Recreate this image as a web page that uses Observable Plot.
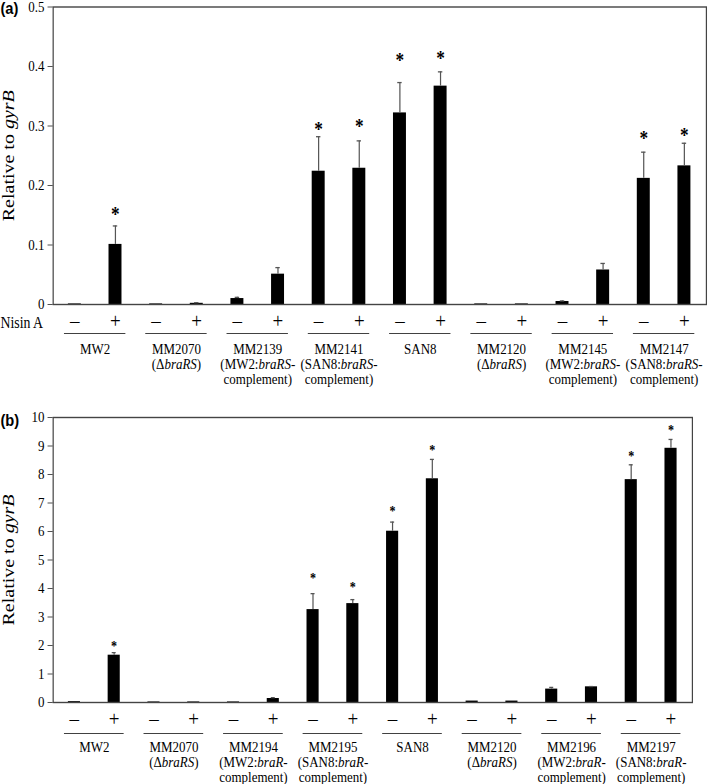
<!DOCTYPE html>
<html><head><meta charset="utf-8">
<script src="https://cdn.jsdelivr.net/npm/d3@7"></script>
<script src="https://cdn.jsdelivr.net/npm/@observablehq/plot@0.6"></script>
<style>
body{margin:0;background:#fff;overflow:hidden;}
#chart{width:709px;}
#chart svg{display:block;}
#chart svg text{font-family:"Liberation Serif","Times New Roman",serif;}
</style></head><body><div id="chart"></div>
<script>
// ---- Panel (a) data ----
const groupsA = ["MW2", "MM2070\n(ΔbraRS)", "MM2139\n(MW2:braRS-\ncomplement)", "MM2141\n(SAN8:braRS-\ncomplement)", "SAN8", "MM2120\n(ΔbraRS)", "MM2145\n(MW2:braRS-\ncomplement)", "MM2147\n(SAN8:braRS-\ncomplement)"];
const minusA = [0.001, 0.001, 0.010, 0.224, 0.322, 0.001, 0.005, 0.212];
const plusA = [0.101, 0.002, 0.051, 0.229, 0.367, 0.001, 0.058, 0.233];
const errMinusA = [0, 0, 0.002, 0.058, 0.051, 0, 0.001, 0.044];
const errPlusA = [0.031, 0.001, 0.011, 0.046, 0.024, 0, 0.011, 0.038];
const starMinusA = [null, null, null, 0.302, 0.417, null, null, 0.287];
const starPlusA = [0.158, null, null, 0.307, 0.421, null, null, 0.291];
const ticksA = [0, 0.1, 0.2, 0.3, 0.4, 0.5];

// ---- Panel (b) data ----
const groupsB = ["MW2", "MM2070\n(ΔbraRS)", "MM2194\n(MW2:braR-\ncomplement)", "MM2195\n(SAN8:braR-\ncomplement)", "SAN8", "MM2120\n(ΔbraRS)", "MM2196\n(MW2:braR-\ncomplement)", "MM2197\n(SAN8:braR-\ncomplement)"];
const minusB = [0.03, 0.02, 0.02, 3.26, 6.01, 0.05, 0.47, 7.82];
const plusB = [1.66, 0.02, 0.14, 3.47, 7.85, 0.05, 0.55, 8.92];
const errMinusB = [0, 0, 0, 0.56, 0.32, 0, 0.06, 0.52];
const errPlusB = [0.09, 0, 0.03, 0.14, 0.68, 0, 0.01, 0.31];
const starMinusB = [null, null, null, 4.46, 6.82, null, null, 8.75];
const starPlusB = [2.09, null, null, 4.15, 8.94, null, null, 9.64];
const ticksB = [0, 1, 2, 3, 4, 5, 6, 7, 8, 9, 10];

const signs = ["–", "+"];
const yLabel = "Relative to gyrB";
const treatmentLabel = "Nisin A";

const SVGNS = "http://www.w3.org/2000/svg";
function italicize(el, re) {
  const t = el.textContent;
  el.textContent = "";
  let last = 0;
  for (const m of t.matchAll(re)) {
    if (m.index > last) el.append(document.createTextNode(t.slice(last, m.index)));
    const s = document.createElementNS(SVGNS, "tspan");
    s.setAttribute("font-style", "italic");
    s.textContent = m[0];
    el.append(s);
    last = m.index + m[0].length;
  }
  if (last < t.length) el.append(document.createTextNode(t.slice(last)));
}

// The drawing is laid out at a wider width and shown horizontally condensed (as in the original figure).
const SHOW_W = 709, PLOT_W = 820;

function panel(o) {
  const ML = 61;
  const step = (PLOT_W - ML - o.marginRight) / 16;
  const rows = [];
  o.groups.forEach((g, i) => {
    rows.push({key: i + "-", sign: signs[0], v: o.minus[i], e: o.errMinus[i], s: o.starMinus[i]});
    rows.push({key: i + "+", sign: signs[1], v: o.plus[i], e: o.errPlus[i], s: o.starPlus[i]});
  });
  const signOf = new Map(rows.map(d => [d.key, d.sign]));
  const gRows = o.groups.map((g, i) => ({a: i + "-", b: i + "+", label: g}));
  const bw = step * 0.51;
  const capInset = (bw - 5.2) / 2;
  const errRows = rows.filter(d => d.e > 0);
  const starRows = rows.filter(d => d.s != null);
  const svg = Plot.plot({
    width: PLOT_W, height: o.height,
    marginTop: o.marginTop, marginBottom: o.marginBottom, marginLeft: ML, marginRight: o.marginRight,
    style: {fontFamily: "'Liberation Serif', 'Times New Roman', serif", fontSize: "15px", color: "#000", background: "#fff", overflow: "visible"},
    x: {domain: rows.map(d => d.key), paddingInner: 0.49, paddingOuter: 0.245},
    y: {domain: [o.ticks[0], o.ticks[o.ticks.length - 1]]},
    marks: [
      Plot.barY(rows, {x: "key", y: "v", fill: "#000", insetLeft: 4.5, insetRight: 4.5}),
      Plot.ruleX(errRows, {x: "key", y1: "v", y2: d => d.v + d.e, stroke: "#555", strokeWidth: 1.4}),
      Plot.tickY(errRows, {x: "key", y: d => d.v + d.e, stroke: "#555", strokeWidth: 1.3, insetLeft: capInset, insetRight: capInset}),
      Plot.text(starRows, {x: "key", y: "s", text: () => "*", fontSize: o.starSize, fontWeight: "bold", fill: "#000", dy: o.starSize * 0.22}),
      Plot.frame({stroke: "#444", strokeWidth: 1.4}),
      Plot.axisY({ticks: o.ticks, tickFormat: o.tickFormat, tickSize: 6, tickPadding: 4, fontSize: 15, stroke: "#444", fill: "#000",
        label: yLabel, labelAnchor: "center", labelOffset: 59, labelArrow: "none"}),
      Plot.axisX({tickSize: 0, tickPadding: 8, tickFormat: k => signOf.get(k), fontSize: 22, fill: "#000", label: null}),
      Plot.ruleY(gRows, {x1: "a", x2: "b", y: 0, dy: o.lineDy, stroke: "#333", strokeWidth: 1}),
      Plot.text(gRows, {x: "a", y: 0, text: "label", dx: step / 2, dy: o.labelDy, lineAnchor: "top", lineHeight: 1.0, fontSize: 15, fill: "#000"}),
      Plot.text([o.tag], {frameAnchor: "top-left", dx: -ML, dy: o.tagDy, text: d => d, textAnchor: "start", lineAnchor: "middle", fontWeight: "bold", fontSize: 17, fill: "#000"}),
      o.showTreatment ? Plot.text([treatmentLabel], {frameAnchor: "bottom-left", dx: -ML, dy: 18, text: d => d, textAnchor: "start", lineAnchor: "middle", fontSize: 16, fill: "#000"}) : null
    ]
  });
  // italic gene names
  svg.querySelectorAll("text, tspan").forEach(el => {
    if (el.children.length === 0 && /bra[RS]+|gyrB/.test(el.textContent)) italicize(el, /bra[RS]+|gyrB/g);
  });
  svg.querySelectorAll("text").forEach(el => {
    const t = el.textContent;
    if (t.startsWith("Relative to")) el.setAttribute("font-size", "20");
    if (t === "(a)" || t === "(b)") el.style.fontFamily = "'Liberation Sans', Arial, sans-serif";
  });
  // condensed display
  svg.setAttribute("viewBox", `0 0 ${PLOT_W} ${o.height}`);
  svg.setAttribute("preserveAspectRatio", "none");
  svg.setAttribute("width", SHOW_W);
  svg.setAttribute("height", o.height);
  svg.style.width = SHOW_W + "px";
  svg.style.height = o.height + "px";
  svg.style.maxWidth = "none";
  return svg;
}

const root = document.getElementById("chart");
root.append(panel({
  tag: "(a)", groups: groupsA, minus: minusA, plus: plusA, errMinus: errMinusA, errPlus: errPlusA,
  starMinus: starMinusA, starPlus: starPlusA, ticks: ticksA, tickFormat: d => d === 0 ? "0" : d.toFixed(1),
  height: 390, marginTop: 6.5, marginBottom: 86, marginRight: 3.5, starSize: 20, lineDy: 29, labelDy: 38.5, tagDy: 2, showTreatment: true
}));
root.append(panel({
  tag: "(b)", groups: groupsB, minus: minusB, plus: plusB, errMinus: errMinusB, errPlus: errPlusB,
  starMinus: starMinusB, starPlus: starPlusB, ticks: ticksB, tickFormat: d => String(d),
  height: 394, marginTop: 27, marginBottom: 82, marginRight: 19.7, starSize: 14, lineDy: 31, labelDy: 39, tagDy: 3, showTreatment: false
}));
</script>
</body></html>
